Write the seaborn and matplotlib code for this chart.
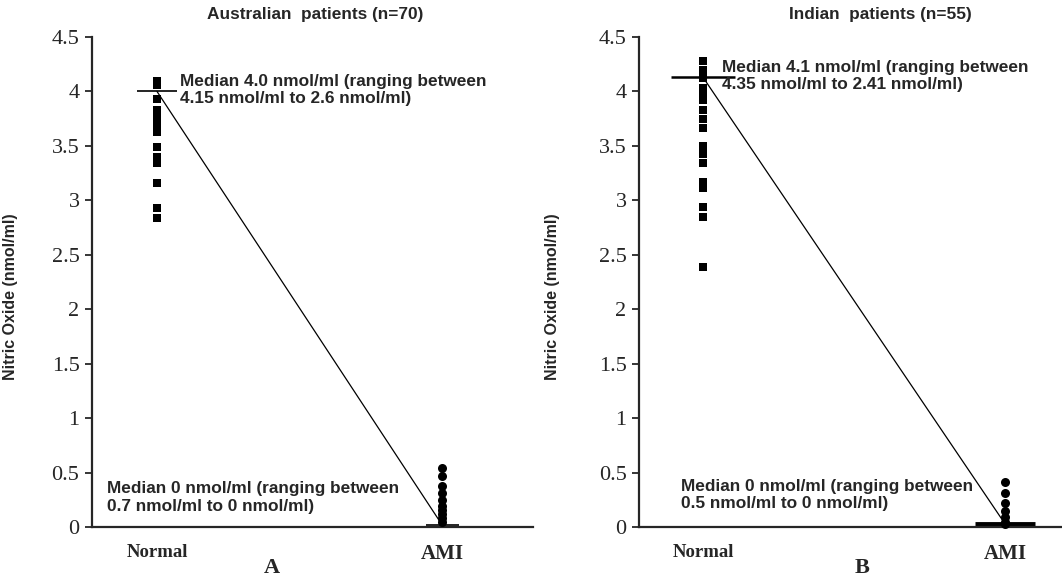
import pandas as pd
import matplotlib.pyplot as plt
import seaborn as sns

sns.set_style("ticks")
plt.rcParams['font.family'] = ['Liberation Sans', 'DejaVu Sans']

groups = ['Normal', 'AMI']
ytick_vals = [0, 0.5, 1, 1.5, 2, 2.5, 3, 3.5, 4, 4.5]
ytick_labels = ['0', '0.5', '1', '1.5', '2', '2.5', '3', '3.5', '4', '4.5']

# Australian patients (panel A)
aus_normal = [4.1, 4.06, 3.93, 3.83, 3.76, 3.69, 3.63, 3.49, 3.40, 3.34, 3.16, 2.93, 2.84]
aus_ami = [0.545, 0.47, 0.38, 0.31, 0.25, 0.196, 0.156, 0.117, 0.08, 0.05]
aus_median = [4.0, 0.02]

# Indian patients (panel B)
ind_normal = [4.28, 4.2, 4.12, 4.03, 3.97, 3.92, 3.83, 3.75, 3.66, 3.5, 3.43, 3.34,
              3.17, 3.11, 2.94, 2.85, 2.39]
ind_ami = [0.41, 0.31, 0.22, 0.15, 0.09, 0.05, 0.03]
ind_median = [4.13, 0.03]

panels = [
    dict(normal=aus_normal, ami=aus_ami, median=aus_median,
         title='Australian  patients (n=70)', letter='A',
         txt_top='Median 4.0 nmol/ml (ranging between\n4.15 nmol/ml to 2.6 nmol/ml)',
         txt_bot='Median 0 nmol/ml (ranging between\n0.7 nmol/ml to 0 nmol/ml)',
         rect=[92 / 1062, 1 - 527 / 582, 441 / 1062, 490 / 582],
         xlim=(-0.228, 1.319), top_xy=(0.081, 4.16), bot_xy=(-0.175, 0.42),
         med_w=[(0.07, 1.2), (0.058, 1.2)], title_x=0.506, letter_x=0.408, ylab_x=-0.168),
    dict(normal=ind_normal, ami=ind_ami, median=ind_median,
         title='Indian  patients (n=55)', letter='B',
         txt_top='Median 4.1 nmol/ml (ranging between\n4.35 nmol/ml to 2.41 nmol/ml)',
         txt_bot='Median 0 nmol/ml (ranging between\n0.5 nmol/ml to 0 nmol/ml)',
         rect=[639 / 1062, 1 - 527 / 582, 423 / 1062, 490 / 582],
         xlim=(-0.212, 1.189), top_xy=(0.063, 4.29), bot_xy=(-0.073, 0.44),
         med_w=[(0.105, 1.8), (0.1, 3.5)], title_x=0.57, letter_x=0.527, ylab_x=-0.187),
]

fig = plt.figure(figsize=(10.62, 5.82), dpi=100)

for p in panels:
    ax = fig.add_axes(p['rect'])
    df_n = pd.DataFrame({'group': 'Normal', 'value': p['normal']})
    df_a = pd.DataFrame({'group': 'AMI', 'value': p['ami']})
    sns.stripplot(data=df_n, x='group', y='value', order=groups, jitter=False,
                  marker='s', size=6, color='black', linewidth=0, ax=ax)
    sns.stripplot(data=df_a, x='group', y='value', order=groups, jitter=False,
                  marker='o', size=6.5, color='black', linewidth=0, ax=ax)
    for c in ax.collections:
        c.set_clip_on(False)

    # median bars + connecting line
    for i, (hw, lw) in enumerate(p['med_w']):
        ax.plot([i - hw, i + hw], [p['median'][i]] * 2, color='black', lw=lw,
                solid_capstyle='butt', clip_on=False)
    ax.plot([0, 1], p['median'], color='black', lw=0.9, clip_on=False)

    ax.text(p['top_xy'][0], p['top_xy'][1], p['txt_top'], fontsize=12.4,
            fontweight='bold', va='top', ha='left', linespacing=1.2)
    ax.text(p['bot_xy'][0], p['bot_xy'][1], p['txt_bot'], fontsize=12.4,
            fontweight='bold', va='top', ha='left', linespacing=1.2)

    ax.set_xlim(*p['xlim'])
    ax.set_ylim(0, 4.5)
    ax.set_yticks(ytick_vals)
    ax.set_yticklabels(ytick_labels, fontfamily='Liberation Serif', fontsize=16)
    ax.tick_params(axis='y', length=5, width=1.3, pad=4)
    ax.tick_params(axis='x', length=0, pad=12)
    for lab, fs in zip(ax.get_xticklabels(), [13.5, 15]):
        lab.set_fontfamily('Liberation Serif')
        lab.set_fontweight('bold')
        lab.set_fontsize(fs)
    ax.set_xlabel('')
    ax.set_ylabel('Nitric Oxide (nmol/ml)', fontsize=11.5, fontweight='bold')
    ax.yaxis.set_label_coords(p['ylab_x'], 0.47)
    sns.despine(ax=ax)
    for s in ['left', 'bottom']:
        ax.spines[s].set_linewidth(1.6)

    ax.text(p['title_x'], 1.045, p['title'], transform=ax.transAxes, ha='center',
            va='center', fontsize=12.4, fontweight='bold')
    ax.text(p['letter_x'], -0.084, p['letter'], transform=ax.transAxes, ha='center',
            va='center', fontsize=16, fontweight='bold', fontfamily='Liberation Serif')

fig.savefig('out.png', dpi=100, facecolor='white')
